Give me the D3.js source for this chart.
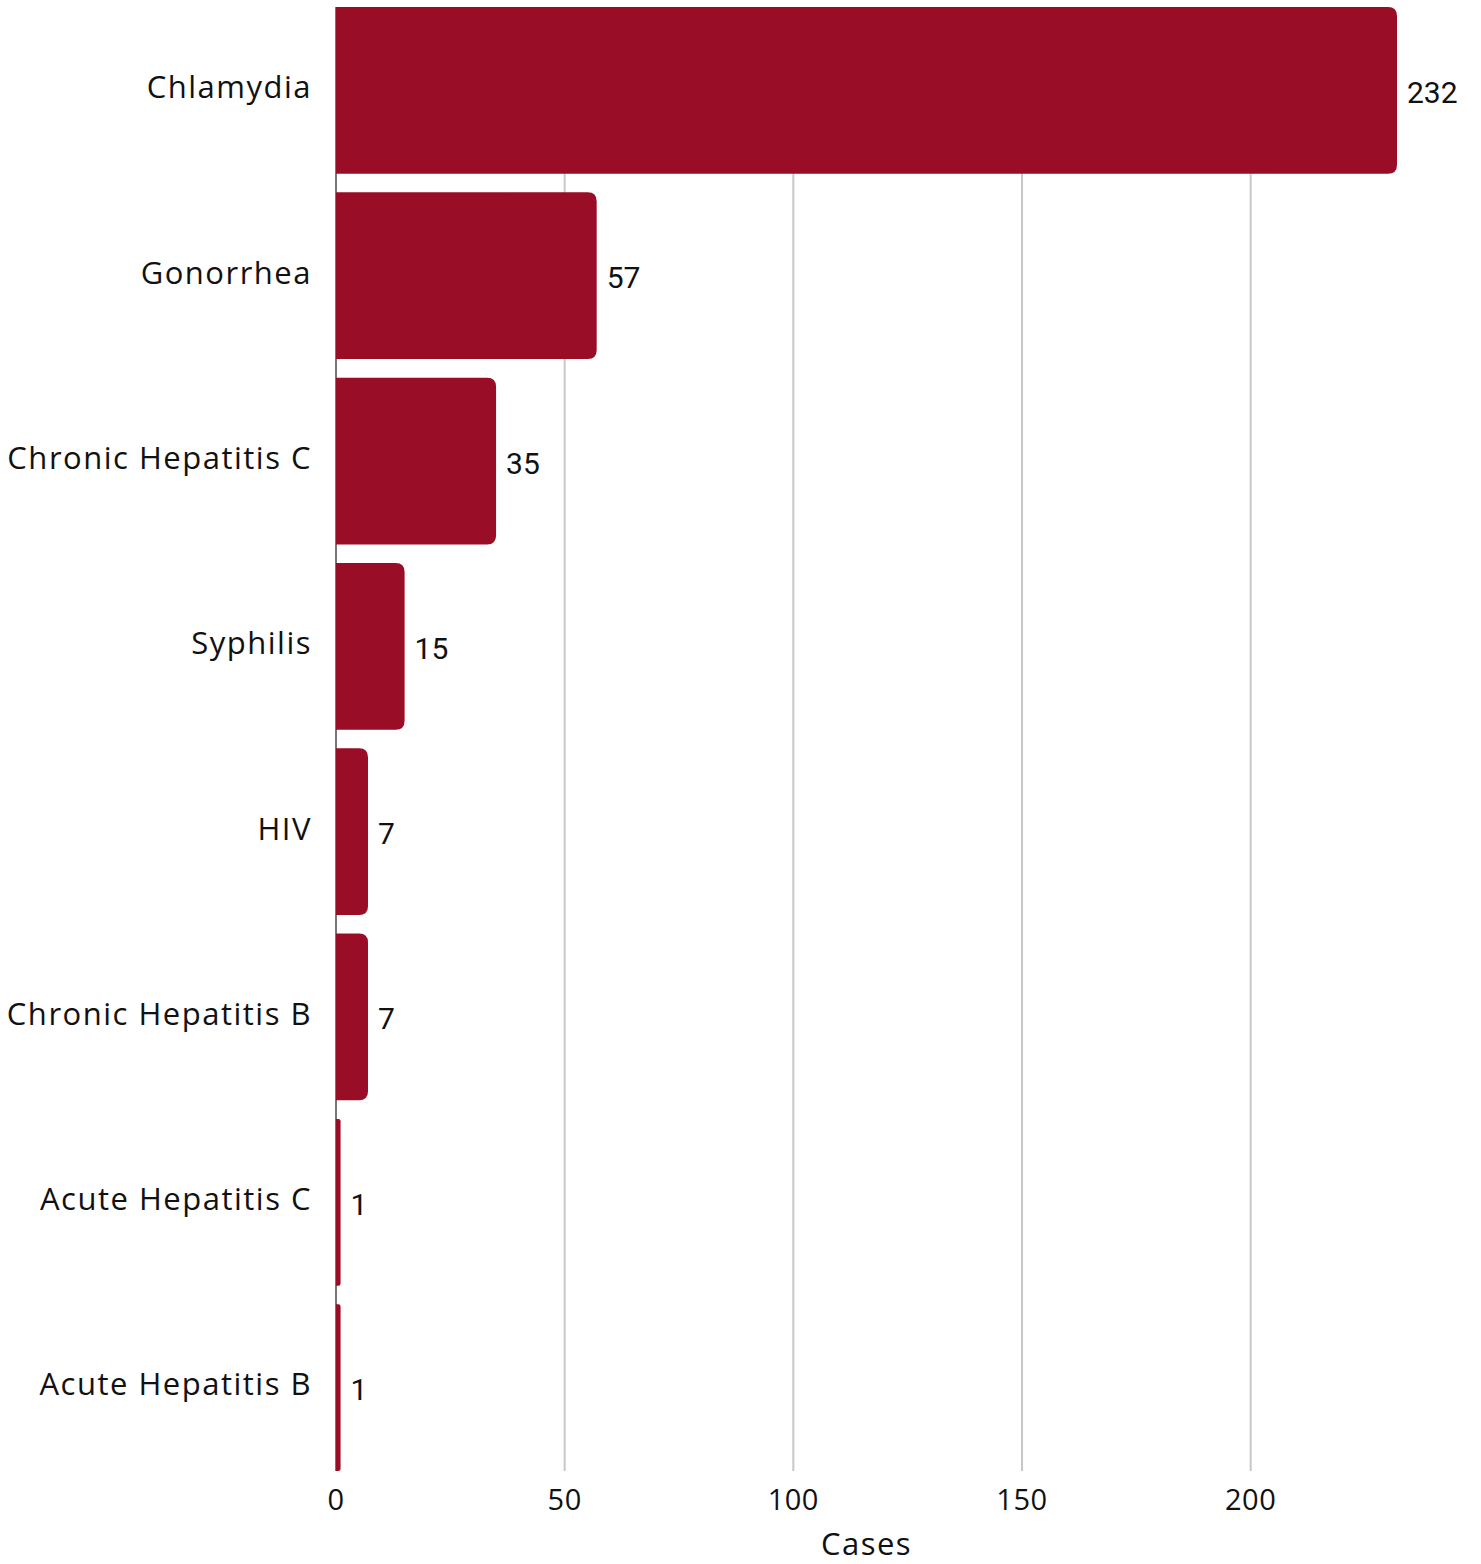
<!DOCTYPE html>
<html>
<head>
<meta charset="utf-8">
<script src="https://cdn.jsdelivr.net/npm/d3@7"></script>
<style>
  body { margin: 0; background: #fff; }
  text { font-family: "Open Sans", sans-serif; }
</style>
</head>
<body>
<div id="chart"></div>
<script>
// data
var diseases = ["Chlamydia", "Gonorrhea", "Chronic Hepatitis C", "Syphilis", "HIV",
                "Chronic Hepatitis B", "Acute Hepatitis C", "Acute Hepatitis B"];
var cases = [232, 57, 35, 15, 7, 7, 1, 1];
var xTicks = [0, 50, 100, 150, 200];

var width = 1481, height = 1564;
var left = 336, right = 1397;

var svg = d3.select("#chart").append("svg")
    .attr("width", width)
    .attr("height", height);

var x = d3.scaleLinear()
    .domain([0, d3.max(cases)])
    .range([left, right]);

var y = d3.scaleBand()
    .domain(diseases)
    .range([7, 1471])
    .paddingInner(0.1)
    .paddingOuter(0);

//// gridlines
svg.append("g")
  .selectAll("line")
  .data(xTicks.slice(1))
  .enter().append("line")
    .attr("x1", d => x(d)).attr("x2", d => x(d))
    .attr("y1", 7).attr("y2", 1471)
    .attr("stroke", "#c8c8c8")
    .attr("stroke-width", 2);

//// y axis line
svg.append("line")
    .attr("x1", x(0)).attr("x2", x(0))
    .attr("y1", 7).attr("y2", 1471)
    .attr("stroke", "#777")
    .attr("stroke-width", 2);

//// bars, rounded on the right only
function barPath(d, i) {
  var x0 = x(0), x1 = x(d), y0 = y(diseases[i]), h = y.bandwidth();
  var r = Math.min(9, (x1 - x0) / 2);
  return "M" + x0 + "," + y0 +
    "H" + (x1 - r) +
    "Q" + x1 + "," + y0 + " " + x1 + "," + (y0 + r) +
    "V" + (y0 + h - r) +
    "Q" + x1 + "," + (y0 + h) + " " + (x1 - r) + "," + (y0 + h) +
    "H" + x0 + "Z";
}

svg.append("g")
  .selectAll("path")
  .data(cases)
  .enter().append("path")
    .attr("d", barPath)
    .attr("fill", "#990d26");

//// value labels
svg.append("g")
  .selectAll("text")
  .data(cases)
  .enter().append("text")
    .attr("x", d => x(d) + 10)
    .attr("y", (d, i) => y(diseases[i]) + y.bandwidth() / 2 + 2)
    .attr("dy", "0.35em")
    .style("font-family", "Roboto, sans-serif")
    .style("font-size", "30px")
    .attr("fill", "#111")
    .text(d => d);

//// category labels
svg.append("g")
  .selectAll("text")
  .data(diseases)
  .enter().append("text")
    .attr("x", 312)
    .attr("y", d => y(d) + y.bandwidth() / 2 - 3)
    .attr("dy", "0.35em")
    .attr("text-anchor", "end")
    .style("font-size", "31px")
    .style("letter-spacing", "1.5px")
    .attr("fill", "#111")
    .text(d => d);

//// x axis tick labels
svg.append("g")
  .selectAll("text")
  .data(xTicks)
  .enter().append("text")
    .attr("x", d => x(d))
    .attr("y", 1500)
    .attr("dy", "0.35em")
    .attr("text-anchor", "middle")
    .style("font-size", "29px")
    .style("letter-spacing", "0.5px")
    .attr("fill", "#111")
    .text(d => d);

svg.append("text")
    .attr("x", (left + right) / 2)
    .attr("y", 1544)
    .attr("dy", "0.35em")
    .attr("text-anchor", "middle")
    .style("font-size", "31px")
    .style("letter-spacing", "1.5px")
    .attr("fill", "#111")
    .text("Cases");
</script>
</body>
</html>
